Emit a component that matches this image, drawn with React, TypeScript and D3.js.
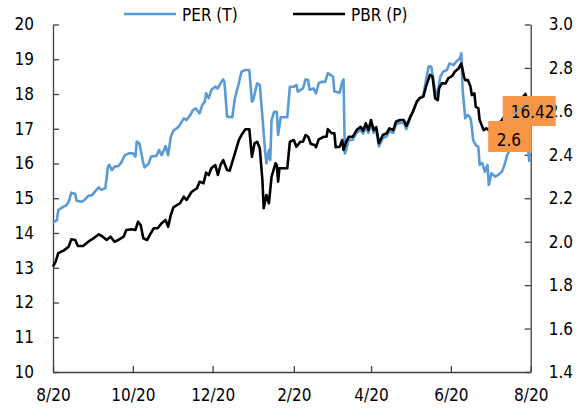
import { useEffect, useRef } from "react"
import * as d3 from "d3"

// PER (left axis), [date, value]
const perSeries: [string, number][] = [
  ["2020-08-01", 14.3], ["2020-08-04", 14.37], ["2020-08-05", 14.66], ["2020-08-09", 14.76],
  ["2020-08-11", 14.79], ["2020-08-13", 14.9], ["2020-08-15", 15.16], ["2020-08-18", 15.12],
  ["2020-08-19", 14.93], ["2020-08-23", 14.9], ["2020-08-25", 14.95], ["2020-08-28", 15.07],
  ["2020-08-31", 15.09], ["2020-09-02", 15.19], ["2020-09-05", 15.31], ["2020-09-07", 15.24],
  ["2020-09-10", 15.29], ["2020-09-12", 15.91], ["2020-09-13", 15.96], ["2020-09-15", 15.81],
  ["2020-09-17", 15.91], ["2020-09-20", 15.93], ["2020-09-22", 16.02], ["2020-09-25", 16.24],
  ["2020-09-28", 16.29], ["2020-10-01", 16.29], ["2020-10-03", 16.2], ["2020-10-04", 16.63],
  ["2020-10-06", 16.58], ["2020-10-09", 16.01], ["2020-10-10", 15.89], ["2020-10-13", 15.99],
  ["2020-10-15", 16.2], ["2020-10-19", 16.22], ["2020-10-21", 16.39], ["2020-10-23", 16.24],
  ["2020-10-26", 16.5], ["2020-10-28", 16.24], ["2020-10-30", 16.77], ["2020-11-01", 16.94],
  ["2020-11-05", 17.06], ["2020-11-09", 17.3], ["2020-11-11", 17.25], ["2020-11-14", 17.4],
  ["2020-11-16", 17.54], ["2020-11-18", 17.59], ["2020-11-21", 17.44], ["2020-11-23", 17.68],
  ["2020-11-25", 17.78], ["2020-11-26", 18.02], ["2020-11-28", 17.88], ["2020-11-30", 18.12],
  ["2020-12-03", 18.21], ["2020-12-05", 18.16], ["2020-12-07", 18.31], ["2020-12-09", 18.42],
  ["2020-12-10", 18.35], ["2020-12-12", 17.35], ["2020-12-16", 17.33], ["2020-12-18", 17.88],
  ["2020-12-21", 18.31], ["2020-12-23", 18.64], ["2020-12-26", 18.69], ["2020-12-29", 18.69],
  ["2020-12-31", 17.78], ["2021-01-01", 17.83], ["2021-01-04", 18.31], ["2021-01-06", 18.26],
  ["2021-01-08", 17.35], ["2021-01-10", 16.39], ["2021-01-11", 16.01], ["2021-01-13", 16.39],
  ["2021-01-14", 16.1], ["2021-01-15", 17.25], ["2021-01-17", 17.49], ["2021-01-19", 17.49],
  ["2021-01-20", 16.82], ["2021-01-22", 17.33], ["2021-01-27", 17.33], ["2021-01-29", 18.21],
  ["2021-02-01", 18.21], ["2021-02-03", 18.26], ["2021-02-04", 18.07], ["2021-02-08", 18.16],
  ["2021-02-10", 18.42], ["2021-02-12", 18.4], ["2021-02-13", 18.12], ["2021-02-16", 18.16],
  ["2021-02-18", 18.02], ["2021-02-20", 18.31], ["2021-02-22", 18.35], ["2021-02-25", 18.35],
  ["2021-02-27", 18.6], ["2021-03-01", 18.55], ["2021-03-03", 18.5], ["2021-03-04", 18.07],
  ["2021-03-08", 18.04], ["2021-03-10", 18.35], ["2021-03-11", 18.42], ["2021-03-12", 16.29],
  ["2021-03-13", 16.39], ["2021-03-15", 16.68], ["2021-03-18", 16.68], ["2021-03-21", 16.88],
  ["2021-03-24", 16.97], ["2021-03-26", 16.86], ["2021-03-28", 17.07], ["2021-03-30", 16.88],
  ["2021-04-01", 17.17], ["2021-04-03", 16.88], ["2021-04-05", 16.96], ["2021-04-07", 16.49],
  ["2021-04-10", 16.73], ["2021-04-13", 16.78], ["2021-04-15", 16.93], ["2021-04-18", 16.88],
  ["2021-04-20", 17.12], ["2021-04-23", 17.17], ["2021-04-26", 17.17], ["2021-04-28", 16.99],
  ["2021-05-01", 17.31], ["2021-05-03", 17.48], ["2021-05-06", 17.78], ["2021-05-08", 17.88],
  ["2021-05-11", 17.97], ["2021-05-13", 18.4], ["2021-05-15", 18.79], ["2021-05-17", 18.79],
  ["2021-05-19", 18.31], ["2021-05-21", 17.88], ["2021-05-24", 18.5], ["2021-05-26", 18.64],
  ["2021-05-29", 18.69], ["2021-05-31", 18.88], ["2021-06-03", 18.83], ["2021-06-05", 18.93],
  ["2021-06-08", 19.03], ["2021-06-09", 19.17], ["2021-06-10", 18.12], ["2021-06-12", 17.3],
  ["2021-06-14", 17.4], ["2021-06-16", 17.3], ["2021-06-17", 17.06], ["2021-06-18", 16.68],
  ["2021-06-20", 16.53], ["2021-06-22", 16.48], ["2021-06-23", 15.96], ["2021-06-25", 16.01],
  ["2021-06-27", 15.76], ["2021-06-29", 15.96], ["2021-06-30", 15.38], ["2021-07-02", 15.72],
  ["2021-07-05", 15.62], ["2021-07-07", 15.67], ["2021-07-10", 15.76], ["2021-07-12", 15.96],
  ["2021-07-14", 16.24], ["2021-07-16", 16.39], ["2021-07-20", 16.5], ["2021-07-24", 16.6],
  ["2021-07-28", 16.7], ["2021-07-30", 16.42], ["2021-07-31", 16.05],
]

// PBR (right axis)
const pbrSeries: [string, number][] = [
  ["2020-08-01", 1.885], ["2020-08-03", 1.908], ["2020-08-05", 1.947], ["2020-08-09", 1.959],
  ["2020-08-13", 1.977], ["2020-08-15", 2.011], ["2020-08-18", 2.008], ["2020-08-20", 1.98],
  ["2020-08-24", 1.98], ["2020-08-28", 2.0], ["2020-09-01", 2.016], ["2020-09-05", 2.034],
  ["2020-09-08", 2.023], ["2020-09-11", 2.008], ["2020-09-14", 2.023], ["2020-09-17", 2.0],
  ["2020-09-20", 2.008], ["2020-09-24", 2.023], ["2020-09-26", 2.054], ["2020-09-30", 2.057],
  ["2020-10-03", 2.054], ["2020-10-05", 2.092], ["2020-10-07", 2.077], ["2020-10-09", 2.016],
  ["2020-10-12", 2.008], ["2020-10-14", 2.031], ["2020-10-17", 2.062], ["2020-10-20", 2.062],
  ["2020-10-23", 2.085], ["2020-10-26", 2.1], ["2020-10-28", 2.069], ["2020-10-30", 2.123],
  ["2020-11-01", 2.158], ["2020-11-06", 2.177], ["2020-11-09", 2.207], ["2020-11-11", 2.192],
  ["2020-11-15", 2.23], ["2020-11-19", 2.246], ["2020-11-21", 2.276], ["2020-11-24", 2.269],
  ["2020-11-26", 2.318], ["2020-11-28", 2.307], ["2020-11-30", 2.338], ["2020-12-03", 2.353],
  ["2020-12-05", 2.307], ["2020-12-07", 2.353], ["2020-12-09", 2.376], ["2020-12-12", 2.33],
  ["2020-12-14", 2.327], ["2020-12-18", 2.407], ["2020-12-21", 2.468], ["2020-12-23", 2.491],
  ["2020-12-26", 2.518], ["2020-12-29", 2.518], ["2020-12-31", 2.391], ["2021-01-02", 2.453],
  ["2021-01-04", 2.46], ["2021-01-06", 2.43], ["2021-01-08", 2.284], ["2021-01-09", 2.154],
  ["2021-01-11", 2.215], ["2021-01-13", 2.177], ["2021-01-15", 2.299], ["2021-01-18", 2.361],
  ["2021-01-19", 2.353], ["2021-01-20", 2.276], ["2021-01-21", 2.338], ["2021-01-27", 2.338],
  ["2021-01-29", 2.46], ["2021-02-01", 2.468], ["2021-02-03", 2.437], ["2021-02-06", 2.46],
  ["2021-02-08", 2.46], ["2021-02-10", 2.491], ["2021-02-12", 2.483], ["2021-02-14", 2.45],
  ["2021-02-17", 2.445], ["2021-02-18", 2.435], ["2021-02-20", 2.471], ["2021-02-24", 2.483],
  ["2021-02-26", 2.483], ["2021-02-27", 2.518], ["2021-03-02", 2.499], ["2021-03-04", 2.499],
  ["2021-03-05", 2.435], ["2021-03-08", 2.437], ["2021-03-10", 2.468], ["2021-03-11", 2.422],
  ["2021-03-13", 2.46], ["2021-03-15", 2.483], ["2021-03-18", 2.483], ["2021-03-21", 2.514],
  ["2021-03-24", 2.529], ["2021-03-26", 2.511], ["2021-03-28", 2.545], ["2021-03-30", 2.514],
  ["2021-04-01", 2.56], ["2021-04-03", 2.514], ["2021-04-05", 2.527], ["2021-04-07", 2.453],
  ["2021-04-10", 2.491], ["2021-04-13", 2.499], ["2021-04-15", 2.522], ["2021-04-18", 2.514],
  ["2021-04-20", 2.552], ["2021-04-23", 2.56], ["2021-04-26", 2.56], ["2021-04-28", 2.533],
  ["2021-05-01", 2.575], ["2021-05-03", 2.599], ["2021-05-06", 2.645], ["2021-05-08", 2.66],
  ["2021-05-11", 2.668], ["2021-05-13", 2.714], ["2021-05-16", 2.768], ["2021-05-18", 2.76],
  ["2021-05-20", 2.66], ["2021-05-22", 2.652], ["2021-05-23", 2.706], ["2021-05-25", 2.729],
  ["2021-05-28", 2.729], ["2021-05-30", 2.752], ["2021-06-02", 2.763], ["2021-06-04", 2.783],
  ["2021-06-07", 2.798], ["2021-06-09", 2.821], ["2021-06-11", 2.76], ["2021-06-12", 2.744],
  ["2021-06-14", 2.744], ["2021-06-16", 2.714], ["2021-06-17", 2.675], ["2021-06-19", 2.683],
  ["2021-06-20", 2.622], ["2021-06-22", 2.614], ["2021-06-23", 2.56], ["2021-06-24", 2.545],
  ["2021-06-26", 2.514], ["2021-06-28", 2.522], ["2021-07-01", 2.51], ["2021-07-06", 2.53],
  ["2021-07-10", 2.56], ["2021-07-15", 2.6], ["2021-07-20", 2.63], ["2021-07-25", 2.66],
  ["2021-07-28", 2.68], ["2021-07-30", 2.64], ["2021-07-31", 2.62],
]

const xDomain = ["2020-08-01", "2021-08-01"]
const xTickDates = ["2020-08-01", "2020-10-01", "2020-12-01", "2021-02-01", "2021-04-01", "2021-06-01", "2021-08-01"]
const xTickLabels = ["8/20", "10/20", "12/20", "2/20", "4/20", "6/20", "8/20"]
const leftTicks = [10, 11, 12, 13, 14, 15, 16, 17, 18, 19, 20]
const rightTicks = [1.4, 1.6, 1.8, 2.0, 2.2, 2.4, 2.6, 2.8, 3.0]
const legendLabels = ["PER (T)", "PBR (P)"]
const lastLabels = ["16.42", "2.6"]

const FONT = "'DejaVu Sans Condensed', 'DejaVu Sans', sans-serif"
const BLUE = "#5B9BD5"
const ORANGE = "#F79646"
const AXIS = "#404040"

export default function App() {
  const svgRef = useRef<SVGSVGElement>(null)

  useEffect(() => {
    if (!svgRef.current) return
    d3.select(svgRef.current).selectAll("*").remove()

    const width = 586
    const height = 409
    const margin = { top: 24.5, right: 55.3, bottom: 37, left: 53 }
    const parse = d3.timeParse("%Y-%m-%d")

    const x = d3
      .scaleTime()
      .domain(xDomain.map((d) => parse(d)!))
      .range([margin.left, width - margin.right])
    const yL = d3.scaleLinear().domain([10, 20]).range([height - margin.bottom, margin.top])
    const yR = d3.scaleLinear().domain([1.4, 3.0]).range([height - margin.bottom, margin.top])

    const svg = d3
      .select(svgRef.current)
      .attr("width", width)
      .attr("height", height)
      .attr("viewBox", [0, 0, width, height])
      .style("font-family", FONT)

    // axes (ticks point inward)
    const styleAxis = (g: d3.Selection<SVGGElement, unknown, null, undefined>) => {
      g.select(".domain").attr("stroke", AXIS).attr("stroke-width", 1.3)
      g.selectAll(".tick line").attr("stroke", AXIS).attr("stroke-width", 1.3)
      g.selectAll(".tick text").attr("fill", "#000").attr("font-size", 17).attr("font-family", FONT)
    }

    svg
      .append("g")
      .attr("transform", `translate(0,${height - margin.bottom})`)
      .call(
        d3
          .axisBottom(x)
          .tickValues(xTickDates.map((d) => parse(d)!))
          .tickSizeInner(-6)
          .tickSizeOuter(0)
          .tickPadding(17)
          .tickFormat((_d, i) => xTickLabels[i])
      )
      .call(styleAxis)

    svg
      .append("g")
      .attr("transform", `translate(${margin.left},0)`)
      .call(d3.axisLeft(yL).tickValues(leftTicks).tickSizeInner(-6).tickSizeOuter(0).tickPadding(19).tickFormat(d3.format("d")))
      .call(styleAxis)

    const rightAxis = svg
      .append("g")
      .attr("transform", `translate(${width - margin.right},0)`)
      .call(d3.axisRight(yR).tickValues(rightTicks).tickSizeInner(-6).tickSizeOuter(0).tickPadding(18).tickFormat(d3.format(".1f")))
      .call(styleAxis)
    rightAxis.lower()

    // lines
    const perLine = d3
      .line<[string, number]>()
      .x((d) => x(parse(d[0])!))
      .y((d) => yL(d[1]))
    const pbrLine = d3
      .line<[string, number]>()
      .x((d) => x(parse(d[0])!))
      .y((d) => yR(d[1]))

    svg
      .append("path")
      .datum(perSeries)
      .attr("d", perLine)
      .attr("fill", "none")
      .attr("stroke", BLUE)
      .attr("stroke-width", 2.6)
      .attr("stroke-linejoin", "round")

    svg
      .append("path")
      .datum(pbrSeries)
      .attr("d", pbrLine)
      .attr("fill", "none")
      .attr("stroke", "#000")
      .attr("stroke-width", 2.6)
      .attr("stroke-linejoin", "round")

    // legend
    const legend = svg.append("g").attr("font-size", 17)
    const legendX = [124, 293]
    ;[BLUE, "#000"].forEach((c, i) => {
      legend
        .append("line")
        .attr("x1", legendX[i])
        .attr("x2", legendX[i] + 52)
        .attr("y1", 14)
        .attr("y2", 14)
        .attr("stroke", c)
        .attr("stroke-width", 2.6)
      legend
        .append("text")
        .attr("x", legendX[i] + 58)
        .attr("y", 21)
        .attr("fill", "#000")
        .text(legendLabels[i])
    })

    // last-value labels
    const xEnd = x(parse(xDomain[1])!)
    const boxes = [
      { x: xEnd - 28, y: 96, w: 53, h: 30, tx: xEnd - 20, ty: 117.7 },
      { x: xEnd - 42.5, y: 121, w: 43.5, h: 31, tx: xEnd - 34, ty: 145.7 },
    ]
    boxes.forEach((b, i) => {
      svg.append("rect").attr("x", b.x).attr("y", b.y).attr("width", b.w).attr("height", b.h).attr("fill", ORANGE)
      svg
        .append("text")
        .attr("x", b.tx)
        .attr("y", b.ty)
        .attr("font-size", 17)
        .attr("fill", "#000")
        .text(lastLabels[i])
    })
    svg
      .append("line")
      .attr("x1", xEnd - 22.5)
      .attr("y1", 120.7)
      .attr("x2", xEnd - 3.5)
      .attr("y2", 102.3)
      .attr("stroke", "#A6A6A6")
      .attr("stroke-width", 1.5)
  }, [])

  return (
    <div style={{ position: "absolute", left: 0, top: 0, background: "#fff" }}>
      <svg ref={svgRef} style={{ display: "block" }} />
    </div>
  )
}
